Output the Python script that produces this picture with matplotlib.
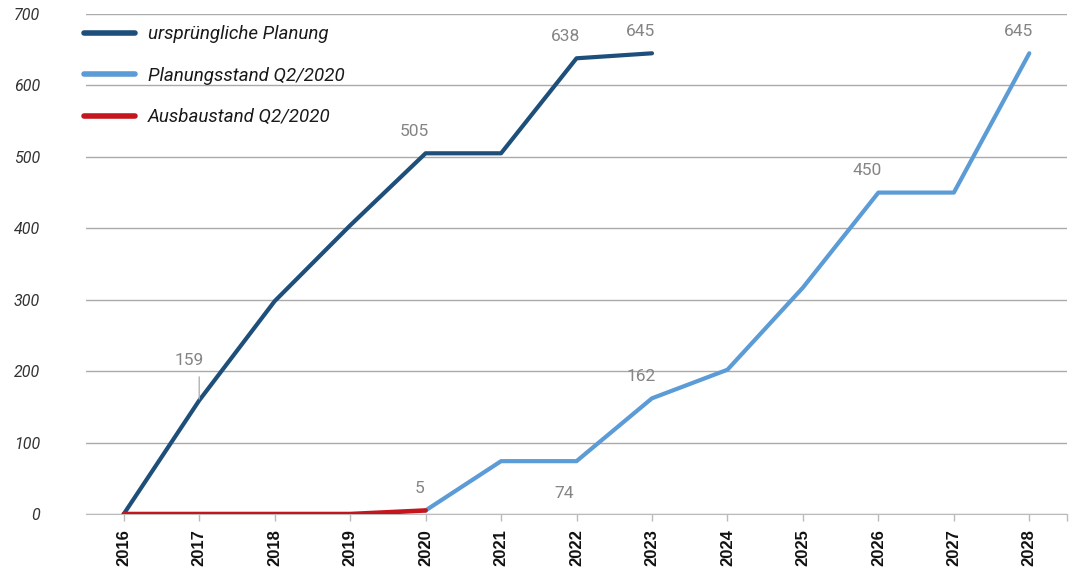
import matplotlib
matplotlib.use("Agg")
import matplotlib.pyplot as plt
import numpy as np

years = ["2016", "2017", "2018", "2019", "2020", "2021", "2022",
         "2023", "2024", "2025", "2026", "2027", "2028"]
orig_years = ["2016", "2017", "2018", "2019", "2020", "2021", "2022", "2023"]
orig_values = [0, 159, 298, 404, 505, 505, 638, 645]
plan_years = ["2020", "2021", "2022", "2023", "2024", "2025", "2026", "2027", "2028"]
plan_values = [5, 74, 74, 162, 202, 317, 450, 450, 645]
ausbau_years = ["2016", "2017", "2018", "2019", "2020"]
ausbau_values = [0, 0, 0, 0, 5]
y_ticks = [0, 100, 200, 300, 400, 500, 600, 700]

series_names = ["ursprüngliche Planung", "Planungsstand Q2/2020", "Ausbaustand Q2/2020"]
colors = ["#1d4f7a", "#5b9bd6", "#c4161c"]

orig_labels = {"2017": 159, "2020": 505, "2022": 638, "2023": 645}
plan_labels = {"2020": 5, "2022": 74, "2023": 162, "2026": 450, "2028": 645}

plt.rcParams['font.family'] = ['Roboto', 'DejaVu Sans']

fig = plt.figure(figsize=(10.75, 5.74), dpi=100)
ax = fig.add_axes([0.08, 0.1045, 0.9926 - 0.08, 0.9756 - 0.1045])

idx = {y: i for i, y in enumerate(years)}
xo = [idx[y] for y in orig_years]
xp = [idx[y] for y in plan_years]
xa = [idx[y] for y in ausbau_years]

l1, = ax.plot(xo, orig_values, color=colors[0], lw=3, solid_capstyle='round', zorder=3)
l2, = ax.plot(xp, plan_values, color=colors[1], lw=3, solid_capstyle='round', zorder=3)
l3, = ax.plot(xa, ausbau_values, color=colors[2], lw=3.3, solid_capstyle='round', zorder=4)

ax.set_xlim(-0.5, len(years) - 0.5)
ax.set_ylim(0, 700)
ax.set_yticks(y_ticks)
ax.set_yticklabels([str(v) for v in y_ticks], fontstyle='italic', fontsize=11.5,
                   fontweight='normal', color='#333333')
ax.set_xticks(range(len(years)))
ax.set_xticklabels(years, rotation=90, fontweight='bold', fontsize=12,
                   family=['Liberation Sans', 'DejaVu Sans'], color='#111111')
ax.set_xticks([len(years) - 0.5], minor=True)
ax.tick_params(axis='y', length=0, pad=33)
ax.tick_params(axis='x', which='both', length=5, color='#bbbbbb', width=1, pad=6)

ax.grid(axis='y', color='#aaaaaa', lw=1)
ax.set_axisbelow(True)
for s in ['top', 'right', 'left']:
    ax.spines[s].set_visible(False)
ax.spines['bottom'].set_color('#bbbbbb')

lab_kw = dict(textcoords='offset points', ha='center', va='center',
              fontsize=12.5, color='#858585', fontweight='normal')

for y, v in orig_labels.items():
    x = idx[y]
    if y == "2017":
        ax.annotate('', xy=(x, v), xytext=(0, 17), textcoords='offset points',
                    arrowprops=dict(arrowstyle='-', color='#aaaaaa', lw=0.9,
                                    shrinkA=0, shrinkB=1))
        ax.annotate(str(v), xy=(x, v), xytext=(-7, 29), **lab_kw)
    else:
        ax.annotate(str(v), xy=(x, v), xytext=(-8, 16), **lab_kw)

for y, v in plan_labels.items():
    x = idx[y]
    if y == "2022":
        ax.annotate(str(v), xy=(x, v), xytext=(-9, -23), **lab_kw)
    elif y == "2020":
        ax.annotate(str(v), xy=(x, v), xytext=(-4, 16), **lab_kw)
    else:
        ax.annotate(str(v), xy=(x, v), xytext=(-8, 16), **lab_kw)

leg = fig.legend([l1, l2, l3], series_names, loc='upper left',
                 bbox_to_anchor=(0.062, 0.985), frameon=False,
                 prop=dict(style='italic', size=13.5, weight='normal'),
                 handlelength=2.75, handletextpad=0.7, labelspacing=1.25,
                 labelcolor='#1a1a1a')
for h in leg.get_lines():
    h.set_linewidth(4)
    h.set_solid_capstyle('round')

fig.savefig("out.png", dpi=100)
